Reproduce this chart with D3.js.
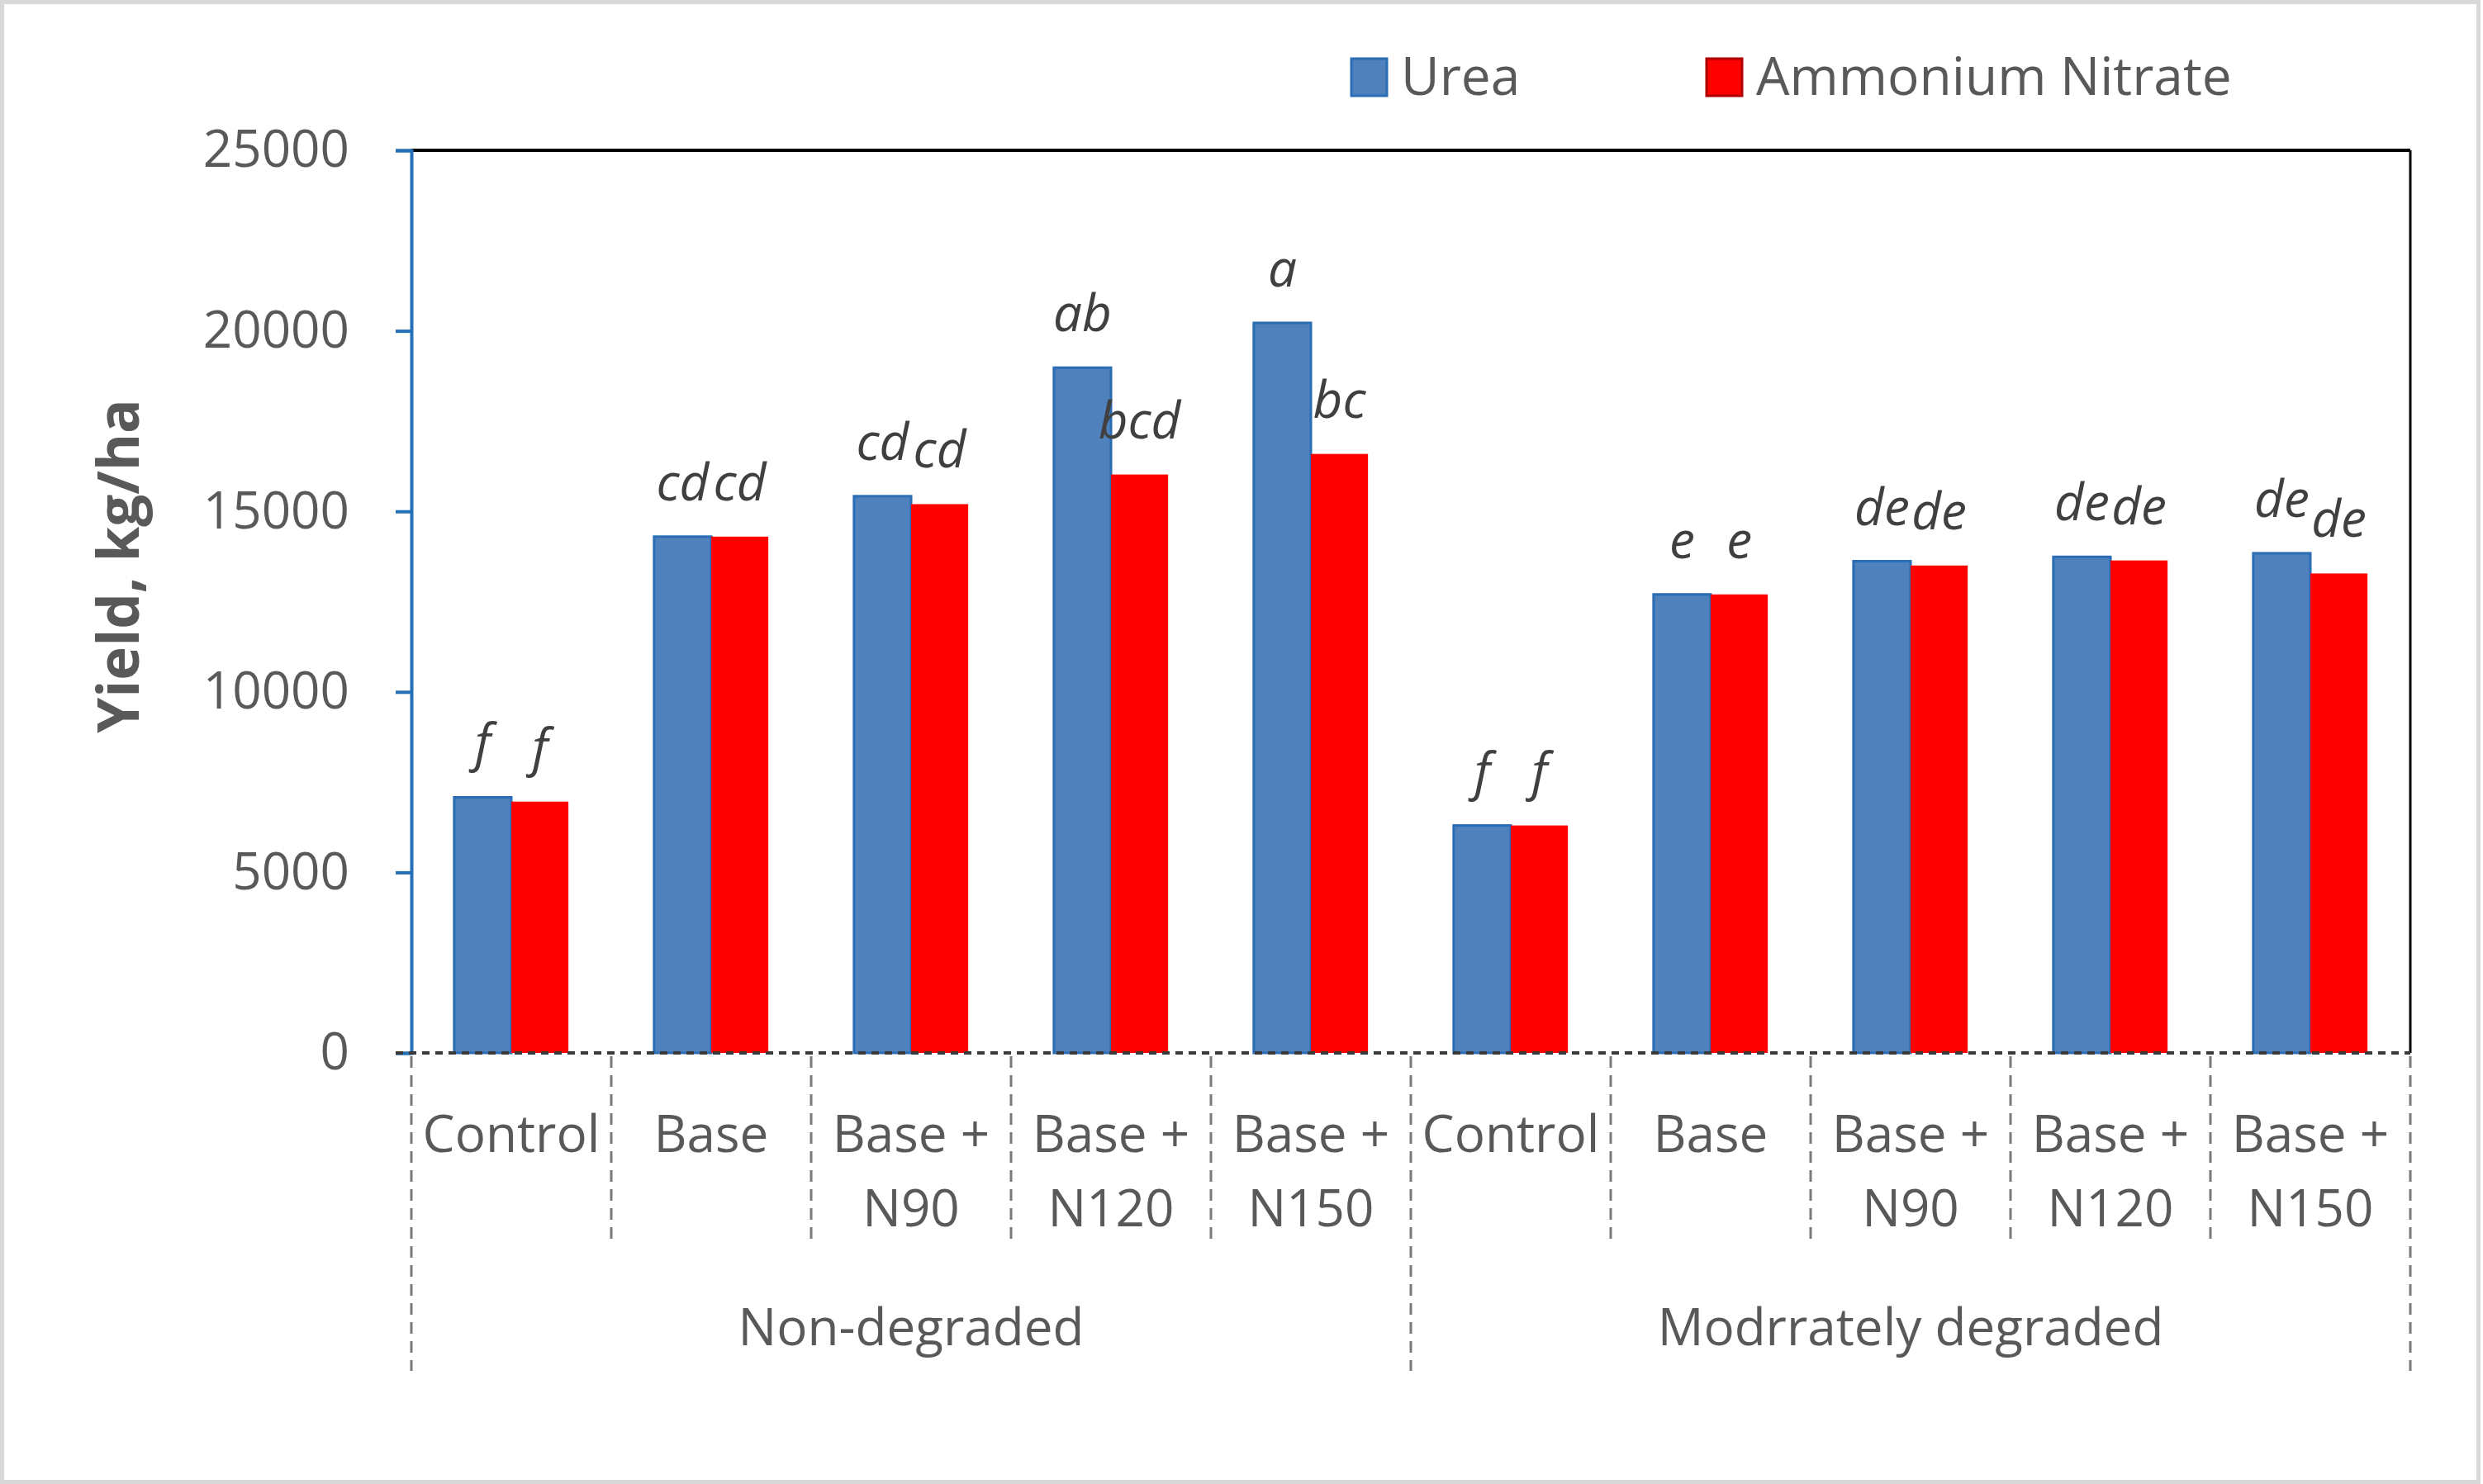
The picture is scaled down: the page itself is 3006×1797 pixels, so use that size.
<!DOCTYPE html>
<html>
<head>
<meta charset="utf-8">
<script src="https://cdn.jsdelivr.net/npm/d3@7"></script>
<style>
  html, body { margin: 0; padding: 0; background: #ffffff; }
  svg { display: block; }
</style>
</head>
<body>
<svg id="chart" width="3006" height="1797"></svg>
<script>
// ---------------- data ----------------
const groups = ["Non-degraded", "Modrrately degraded"];
const treatments = ["Control", "Base", "Base + N90", "Base + N120", "Base + N150"];
const seriesNames = ["Urea", "Ammonium Nitrate"];
const ureaValues = [7080, 14300, 15420, 18980, 20220, 6300, 12700, 13620, 13740, 13840];
const anValues   = [6960, 14300, 15200, 16020, 16590, 6300, 12700, 13500, 13640, 13280];
const ureaLetters = ["f", "cd", "cd", "ab", "a", "f", "e", "de", "de", "de"];
const anLetters   = ["f", "cd", "cd", "bcd", "bc", "f", "e", "de", "de", "de"];
const yTicks = [0, 5000, 10000, 15000, 20000, 25000];
const yTitle = "Yield, kg/ha";

// ---------------- layout ----------------
const W = 3006, H = 1797;
const plot = { left: 498, right: 2918, top: 182, bottom: 1275 };
const colors = { urea: "#4F81BD", ureaEdge: "#2A6DB5", an: "#FF0000", text: "#595959", axisBlue: "#2470B6" };
const FONT = "'Open Sans', 'Liberation Sans', Arial, sans-serif";

const svg = d3.select("#chart");

// outer border
svg.append("rect").attr("x", 2.5).attr("y", 2.5).attr("width", 2998).attr("height", H - 5)
  .attr("fill", "#ffffff").attr("stroke", "#d9d9d9").attr("stroke-width", 5);

// combined category list
const cats = [];
groups.forEach((g, gi) => treatments.forEach((t, ti) => cats.push({ g, gi, t, ti, i: gi * treatments.length + ti })));

const x0 = d3.scaleBand().domain(d3.range(cats.length)).range([plot.left, plot.right]).paddingInner(0).paddingOuter(0);
const x1 = d3.scaleBand().domain([0, 1]).range([0, x0.bandwidth()]).paddingInner(0).paddingOuter(0.75);
const y = d3.scaleLinear().domain([0, 25000]).range([plot.bottom, plot.top]);

// plot frame top and right (black)
svg.append("line").attr("x1", plot.left).attr("x2", plot.right).attr("y1", plot.top).attr("y2", plot.top)
  .attr("stroke", "#000").attr("stroke-width", 4);
svg.append("line").attr("x1", plot.right).attr("x2", plot.right).attr("y1", plot.top).attr("y2", plot.bottom)
  .attr("stroke", "#000").attr("stroke-width", 3);

// bars
const barData = cats.map(c => [
  { c, s: 0, v: ureaValues[c.i], letter: ureaLetters[c.i] },
  { c, s: 1, v: anValues[c.i], letter: anLetters[c.i] }
]);

const gCat = svg.append("g").selectAll("g").data(barData).join("g")
  .attr("transform", (d, i) => `translate(${x0(i)},0)`);

gCat.selectAll("rect").data(d => d).join("rect")
  .attr("x", d => x1(d.s))
  .attr("y", d => y(d.v))
  .attr("width", x1.bandwidth())
  .attr("height", d => y(0) - y(d.v))
  .attr("fill", d => d.s === 0 ? colors.urea : colors.an)
  .attr("stroke", d => d.s === 0 ? colors.ureaEdge : "none")
  .attr("stroke-width", 3);

// significance letters
gCat.selectAll("text.letter").data(d => d).join("text")
  .attr("class", "letter")
  .attr("x", d => x1(d.s) + x1.bandwidth() / 2)
  .attr("y", d => y(d.v) - 44)
  .attr("text-anchor", "middle")
  .attr("font-family", FONT)
  .attr("font-style", "italic")
  .attr("font-size", 62)
  .attr("fill", "#404040")
  .text(d => d.letter);

// y axis (blue)
const yAxis = d3.axisLeft(y).tickValues(yTicks).tickSize(19).tickPadding(56).tickFormat(d3.format("d"));
const gy = svg.append("g").attr("transform", `translate(${plot.left},0)`).call(yAxis);
gy.select(".domain").attr("stroke", colors.axisBlue).attr("stroke-width", 4);
gy.selectAll(".tick line").attr("stroke", colors.axisBlue).attr("stroke-width", 4);
gy.selectAll(".tick text").attr("font-family", FONT).attr("font-size", 62).attr("fill", colors.text);

// y title
svg.append("text")
  .attr("transform", `translate(144, ${(plot.top + plot.bottom) / 2 - 43}) rotate(-90)`)
  .attr("text-anchor", "middle").attr("dy", "0.35em")
  .attr("font-family", FONT).attr("font-weight", "bold").attr("font-size", 69)
  .attr("fill", colors.text).text(yTitle);

// x baseline (dashed dark)
svg.append("line").attr("x1", plot.left - 19).attr("x2", plot.right).attr("y1", plot.bottom).attr("y2", plot.bottom)
  .attr("stroke", "#3a3a3a").attr("stroke-width", 4).attr("stroke-dasharray", "9,7");

// category divider dashes
const dividers = d3.range(cats.length + 1).map(i => ({
  x: i < cats.length ? x0(i) : plot.right,
  major: i % treatments.length === 0
}));
svg.append("g").selectAll("line").data(dividers).join("line")
  .attr("x1", d => d.x).attr("x2", d => d.x)
  .attr("y1", plot.bottom + 4)
  .attr("y2", d => d.major ? 1660 : 1505)
  .attr("stroke", "#7a7a7a").attr("stroke-width", 3).attr("stroke-dasharray", "14,9");

// category labels (two lines)
const catLab = svg.append("g").selectAll("text").data(cats).join("text")
  .attr("text-anchor", "middle")
  .attr("font-family", FONT).attr("font-size", 62).attr("fill", colors.text);
catLab.each(function (d) {
  const cx = x0(d.i) + x0.bandwidth() / 2;
  const parts = d.t.includes("+") ? [d.t.slice(0, d.t.indexOf("+") + 1), d.t.slice(d.t.indexOf("+") + 1).trim()] : [d.t];
  const sel = d3.select(this);
  parts.forEach((p, k) => {
    sel.append("tspan").attr("x", cx).attr("y", 1373 + k * 90).attr("dy", "0.35em").text(p);
  });
});

// group labels
svg.append("g").selectAll("text").data(groups).join("text")
  .attr("x", (g, gi) => (x0(gi * treatments.length) + (gi === groups.length - 1 ? plot.right : x0((gi + 1) * treatments.length))) / 2)
  .attr("y", 1607).attr("dy", "0.35em")
  .attr("text-anchor", "middle")
  .attr("font-family", FONT).attr("font-size", 62).attr("fill", colors.text)
  .text(d => d);

// legend
const legendX = [1636, 2066];
const leg = svg.append("g").selectAll("g").data(seriesNames).join("g")
  .attr("transform", (d, i) => `translate(${legendX[i]}, 71)`);
leg.append("rect").attr("width", 43).attr("height", 45)
  .attr("fill", (d, i) => i === 0 ? colors.urea : colors.an)
  .attr("stroke", (d, i) => i === 0 ? colors.ureaEdge : "#b00000").attr("stroke-width", 3);
leg.append("text").attr("x", 60).attr("y", 22).attr("dy", "0.35em")
  .attr("font-family", FONT).attr("font-size", 64).attr("fill", colors.text)
  .text(d => d);
</script>
</body>
</html>
